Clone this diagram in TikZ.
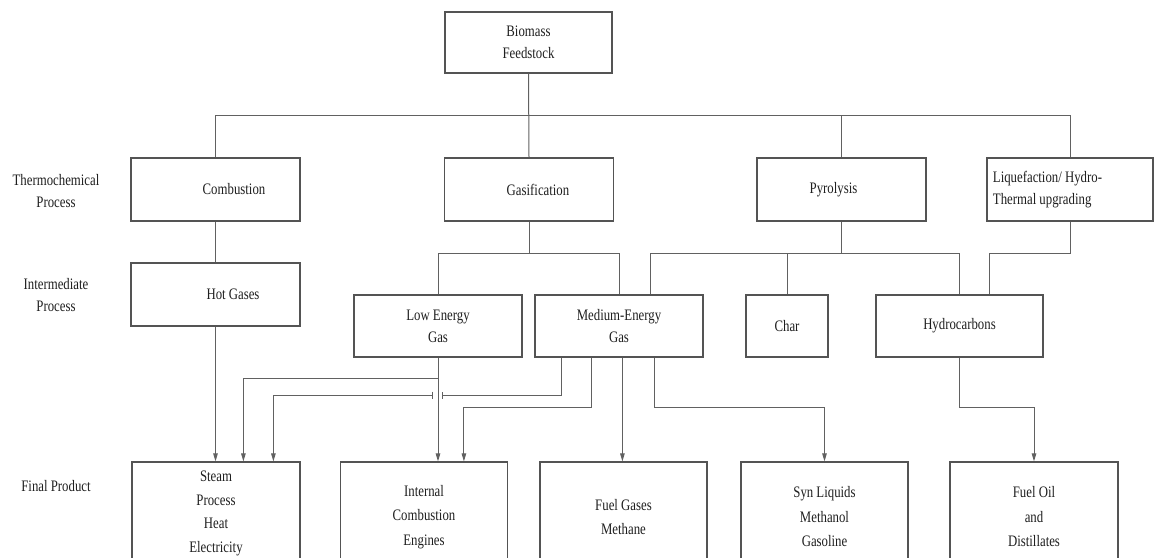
\documentclass[tikz,border=0pt]{standalone}
\usepackage{fontspec}
\setmainfont{Liberation Serif}[FakeStretch=0.8]
\usetikzlibrary{arrows.meta}
\definecolor{linec}{gray}{0.38}
\definecolor{boxc}{gray}{0.33}
\definecolor{txt}{gray}{0.12}
\tikzset{
  every node/.style={font=\fontsize{16}{22}\selectfont, text=txt},
  box/.style={draw=boxc, line width=1.2pt, inner sep=0pt, align=center,
              minimum width=169pt, minimum height=63pt},
  midbox/.style={box, minimum width=168pt, minimum height=62pt},
  endbox/.style={box, minimum width=167pt, minimum height=110pt,
                 font=\fontsize{16}{24.5}\selectfont},
  sidelabel/.style={align=center},
  conn/.style={draw=linec, line width=1pt},
  head/.tip={Triangle[length=8pt,width=4.5pt]},
  gaptick/.tip={Bar[width=7pt]},
  arrow/.style={conn, -{head}}
}
\begin{document}
\begin{tikzpicture}[x=1pt,y=-1pt]
\useasboundingbox (0,0) rectangle (1154,557);
\fill[white] (0,0) rectangle (1154,557);
\clip (0,0) rectangle (1154,557);

% row labels
\node[sidelabel] (lthermo) at (56,191) {Thermochemical\\Process};
\node[sidelabel] (linter)  at (56,295) {Intermediate\\Process};
\node[sidelabel] (lfinal)  at (56,486) {Final Product};

% feedstock
\node[box, minimum width=167pt, minimum height=61pt] (bio) at (528.5,42.5) {Biomass\\Feedstock};

% thermochemical processes
\node[box, label={[xshift=18.5pt]center:Combustion}] (comb) at (215.5,189.5) {};
\node[box, label={[xshift=9pt]center:Gasification}] (gas) at (529,189.5) {};
\node[box, label={[xshift=-8pt]center:Pyrolysis}] (pyr) at (841.5,189.5) {};
\node[box, minimum width=166pt,
      label={[anchor=west, align=left, xshift=3pt]west:Liquefaction/ Hydro-\\Thermal upgrading}]
      (liq) at (1070,189.5) {};

% intermediate products
\node[box, label={[xshift=17.5pt]center:Hot Gases}] (hot) at (215.5,294.5) {};
\node[midbox] (low) at (438,326) {Low Energy\\Gas};
\node[midbox] (med) at (619,326) {Medium-Energy\\Gas};
\node[midbox, minimum width=82pt] (char) at (787,326) {Char};
\node[midbox, minimum width=167pt] (hydro) at (959.5,326) {Hydrocarbons};

% final products (boxes run past the lower edge)
\node[endbox, minimum width=168pt, minimum height=103pt,
      font=\fontsize{16}{23.5}\selectfont] (steam) at (216,513.5) {Steam\\Process\\Heat\\Electricity};
\node[endbox] (ice)  at (424,517) {Internal\\Combustion\\Engines};
\node[endbox] (fuel) at (623.5,517) {Fuel Gases\\Methane};
\node[endbox] (syn)  at (824.5,517) {Syn Liquids\\Methanol\\Gasoline};
\node[endbox, minimum width=168pt] (oil) at (1034,517) {Fuel Oil\\and\\Distillates};

% feedstock to processes
\draw[conn] (bio.south) -- (gas.north);
\draw[conn] (comb.north) -- ++(0,-42) -| (liq.north);
\draw[conn] (pyr.north) -- ++(0,-42);

% processes to intermediates
\draw[conn] (comb.south) -- (hot.north);
\draw[conn] (gas.south) -- ++(0,32) coordinate (gbus) -| (med.north);
\draw[conn] (gbus) -| (low.north);
\draw[conn] (pyr.south) -- ++(0,32) coordinate (pbus);
\draw[conn] ([xshift=31pt]med.north) |- (pbus) -| (hydro.north);
\draw[conn] (char.north) -- (char.north |- pbus);
\draw[conn] (liq.south) -- ++(0,32) -| ([xshift=29.5pt]hydro.north);

% intermediates to final products
\draw[arrow] (hot.south) -- (hot.south |- steam.north);
\draw[arrow] (low.south) -- (low.south |- ice.north);
\draw[arrow] (low.south) -- ++(0,21) -| ([xshift=112pt]steam.north west);
\coordinate (gapr) at (442,395);
\coordinate (gapl) at (433,395);
\draw[conn, -{gaptick}] ([xshift=27pt]med.south west) |- (gapr);
\draw[conn, {gaptick}-{head}] (gapl) -| ([xshift=142pt]steam.north west);
\draw[arrow] ([xshift=57pt]med.south west) -- ++(0,50) -| ([xshift=124pt]ice.north west);
\draw[arrow] ([xshift=88pt]med.south west) -- ([xshift=88pt]med.south west |- fuel.north);
\draw[arrow] ([xshift=120pt]med.south west) -- ++(0,50) -| (syn.north);
\draw[arrow] (hydro.south) -- ++(0,50) -| (oil.north);
\end{tikzpicture}
\end{document}
